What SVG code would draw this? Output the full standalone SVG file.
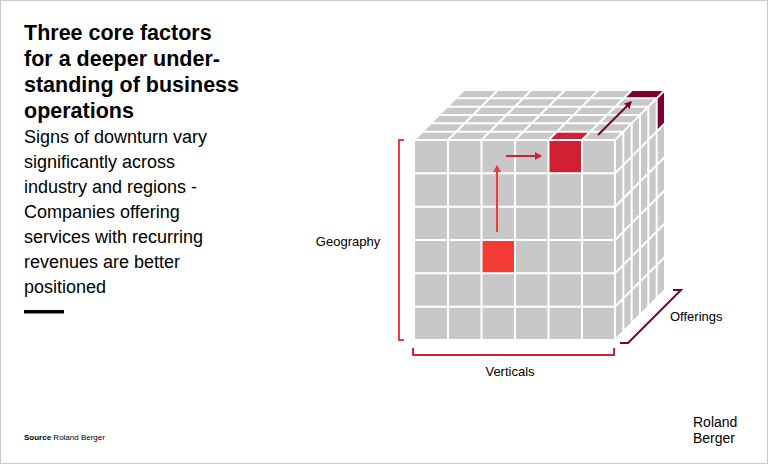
<svg xmlns="http://www.w3.org/2000/svg" width="768" height="464" viewBox="0 0 768 464">
<style>
.t{font-family:"Liberation Sans",Arial,sans-serif;fill:#000}
.title{font-size:21.5px;font-weight:bold}
.body{font-size:18px}
.lbl{font-size:13px}
.g{stroke:#fff;stroke-width:2;fill:none}
</style>
<defs>
<marker id="ar" markerWidth="8" markerHeight="8" refX="6" refY="4" orient="auto" markerUnits="userSpaceOnUse"><path d="M0,0 L7,4 L0,8 z" fill="#d11f33"/></marker>
<marker id="ar2" markerWidth="8" markerHeight="8" refX="6" refY="4" orient="auto" markerUnits="userSpaceOnUse"><path d="M0,0 L7,4 L0,8 z" fill="#ef3a3a"/></marker>
<marker id="ad" markerWidth="8" markerHeight="8" refX="6" refY="4" orient="auto" markerUnits="userSpaceOnUse"><path d="M0,0 L7,4 L0,8 z" fill="#7d0033"/></marker>
</defs>
<rect x="0.5" y="0.5" width="767" height="463" fill="#fff" stroke="#ccc"/>
<g id="title">
<text class="t title" x="24" y="40">Three core factors</text>
<text class="t title" x="24" y="66">for a deeper under-</text>
<text class="t title" x="24" y="92">standing of business</text>
<text class="t title" x="24" y="118">operations</text>
</g>
<g id="body">
<text class="t body" x="24" y="143">Signs of downturn vary</text>
<text class="t body" x="24" y="168">significantly across</text>
<text class="t body" x="24" y="193">industry and regions -</text>
<text class="t body" x="24" y="218">Companies offering</text>
<text class="t body" x="24" y="243">services with recurring</text>
<text class="t body" x="24" y="268">revenues are better</text>
<text class="t body" x="24" y="293">positioned</text>
<rect x="24" y="310" width="40" height="3.5" fill="#000"/>
</g>
<g id="cube">
<rect x="414" y="140" width="201" height="200" fill="#c8c8c8"/>
<polygon points="414,140 615,140 665,90 464,90" fill="#c8c8c8"/>
<polygon points="615,140 665,90 665,290 615,340" fill="#c8c8c8"/>
<rect x="481.5" y="240" width="33.5" height="33.3" fill="#f33a33"/>
<rect x="548.5" y="140" width="33.5" height="33.3" fill="#d11f33"/>
<polygon points="548.5,140 582,140 590.3,131.7 556.8,131.7" fill="#d11f33"/>
<polygon points="623.7,98.3 656.7,98.3 665,90 632,90" fill="#7d0033"/>
<polygon points="656.7,98.3 665,90 665,123.3 656.7,131.7" fill="#7d0033"/>
<path class="g" d="M414,173.3H615M414,206.7H615M414,240H615M414,273.3H615M414,306.7H615M414,340H615M414,140H615
M414,140V340M448,140V340M481.5,140V340M515,140V340M548.5,140V340M582,140V340M615,140V340
M422.3,131.7H623.3M430.7,123.3H631.7M439,115H640M447.3,106.7H648.3M455.7,98.3H656.7M464,90H665
M414,140L464,90M448,140L498,90M481.5,140L531.5,90M515,140L565,90M548.5,140L598.5,90M582,140L632,90M615,140L665,90
M623.3,131.7V331.7M631.7,123.3V323.3M640,115V315M648.3,106.7V306.7M656.7,98.3V298.3M665,90V290
M615,173.3L665,123.3M615,206.7L665,156.7M615,240L665,190M615,273.3L665,223.3M615,306.7L665,256.7M615,340L665,290"/>
</g>
<g id="connectors" fill="none" stroke-width="2">
<line x1="497" y1="232" x2="497" y2="166" stroke="#ef3a3a" marker-end="url(#ar2)"/>
<line x1="506" y1="156" x2="541" y2="156" stroke="#d11f33" marker-end="url(#ar)"/>
<line x1="598" y1="135" x2="631" y2="102" stroke="#7d0033" marker-end="url(#ad)"/>
<path d="M404,140H399V340H404" stroke="#f33a3a"/>
<path d="M413,348V355H614V348" stroke="#d11f33"/>
<path d="M620,343H628L681,290H673" stroke="#7d0033"/>
</g>
<g id="labels">
<text class="t lbl" x="348" y="246" text-anchor="middle">Geography</text>
<text class="t lbl" x="510" y="376" text-anchor="middle">Verticals</text>
<text class="t lbl" x="670" y="321">Offerings</text>
</g>
<g id="footer">
<text class="t" x="24" y="440" font-size="8"><tspan font-weight="bold">Source</tspan> Roland Berger</text>
<text class="t" x="693" y="427" font-size="14">Roland</text>
<text class="t" x="693" y="443" font-size="14">Berger</text>
</g>
</svg>
